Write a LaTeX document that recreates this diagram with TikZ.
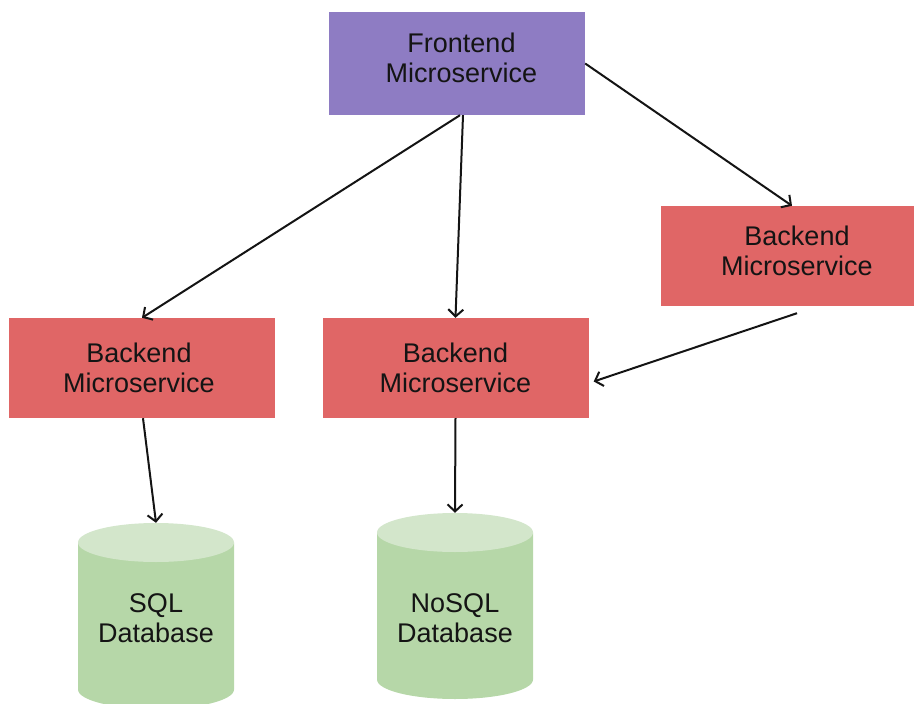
\documentclass[tikz,border=0pt]{standalone}
\usepackage{fontspec}
\setmainfont{Liberation Sans}
\usetikzlibrary{arrows.meta,calc}

\definecolor{feFill}{HTML}{8E7CC3}
\definecolor{beFill}{HTML}{E06666}
\definecolor{dbBody}{HTML}{B6D7A8}
\definecolor{dbTop}{HTML}{D3E6CB}
\definecolor{ink}{HTML}{141414}

% two centred lines; #1 moves the lines sideways inside their box
\newcommand\twolines[3][0pt]{\hbox{\kern#1\vbox{\baselineskip=30pt
  \halign{\hfil##\hfil\cr#2\cr#3\cr}}\kern-#1}}

\tikzset{
  svcbox/.style={inner sep=0pt, text height=49pt, text=ink,
    font=\fontsize{27}{30}\selectfont},
  frontbox/.style={svcbox, fill=feFill, minimum width=256pt, minimum height=103pt},
  backbox/.style={svcbox, fill=beFill, minimum height=100pt},
  dbcyl/.style={inner sep=0pt, text depth=0pt, text=ink,
    font=\fontsize{27}{30}\selectfont,
    minimum width=156pt, minimum height=186pt,
    path picture={
      \fill[dbBody]
        ([yshift=-19.5pt]path picture bounding box.north west)
        -- ([yshift=19.5pt]path picture bounding box.south west)
        arc[start angle=180, end angle=360, x radius=78pt, y radius=19.5pt]
        -- ([yshift=-19.5pt]path picture bounding box.north east) -- cycle;
      \fill[dbTop] ([yshift=-19.5pt]path picture bounding box.north)
        ellipse[x radius=78pt, y radius=19.5pt];
    }},
  link/.style={draw=ink, line width=2pt,
    -{Straight Barb[length=7pt,width=15pt,line width=2pt]}}
}

\begin{document}
\begin{tikzpicture}[x=1pt, y=-1pt]
\useasboundingbox (0,0) rectangle (914,704);

% services
\node[frontbox, text depth=12pt] (front) at (457,63.5)
  {\twolines[4.5pt]{Frontend}{Microservice}};
\node[backbox, minimum width=272pt, text depth=11pt] (beR) at (797,256)
  {\twolines{Backend}{Microservice}};
\node[backbox, minimum width=266pt, text depth=1pt] (beL) at (142,368)
  {\twolines[-3pt]{Backend}{Microservice}};
\node[backbox, minimum width=266pt, text depth=1pt] (beM) at (455.5,368)
  {\twolines{Backend}{Microservice}};

% databases
\node[dbcyl, text height=52pt] (sql) at (156,616)
  {\twolines{SQL}{Database}};
\node[dbcyl, text height=72pt] (nosql) at (455,606)
  {\twolines{NoSQL}{Database}};

% calls
\draw[link] ($(front.south)+(3,0)$) -- (beL.north);
\draw[link] ($(front.south)+(6,0)$) -- (beM.north);
\draw[link] (front.east) -- ($(beR.north)+(-5,0)$);
\draw[link] ($(beR.south)+(0,7)$) -- ($(beM.east)+(5,13.5)$);
\draw[link] ($(beL.south)+(1,0)$) -- (sql.north);
\draw[link] (beM.south) -- (nosql.north);
\end{tikzpicture}
\end{document}
